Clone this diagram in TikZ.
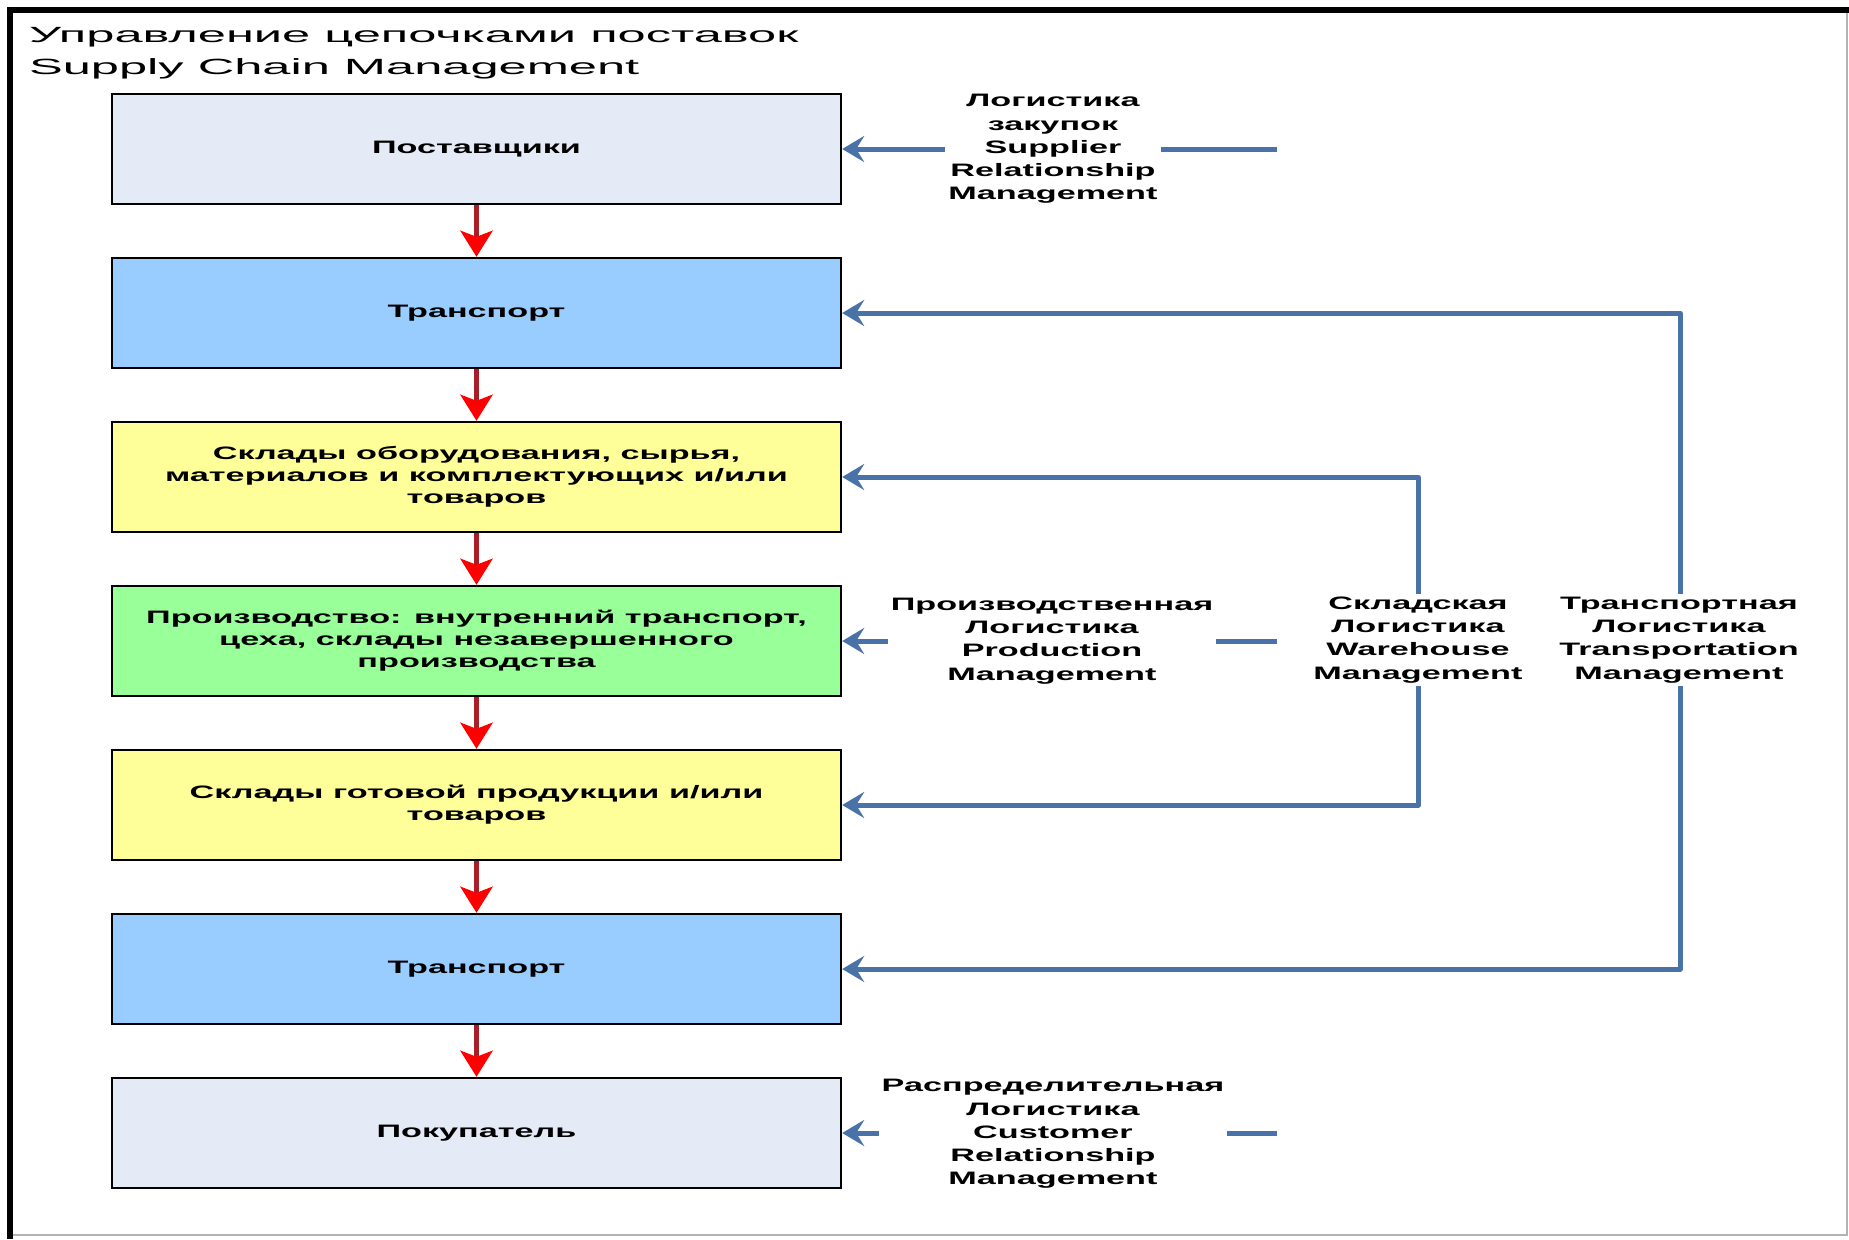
\documentclass[tikz,border=0pt]{standalone}
\usepackage{fontspec}
\setmainfont{Liberation Sans}
\newfontfamily\titlefont[FakeStretch=2.3]{Liberation Sans}
\newfontfamily\boxfont[FakeStretch=1.9]{Liberation Sans}
\usepackage{tikz}
\usetikzlibrary{positioning,arrows.meta}

\definecolor{EndFill}{RGB}{228,234,246}
\definecolor{TransFill}{RGB}{153,204,255}
\definecolor{StoreFill}{RGB}{255,255,153}
\definecolor{ProdFill}{RGB}{153,255,153}
\definecolor{LinkBlue}{RGB}{72,114,168}
\definecolor{ShaftRed}{RGB}{170,30,40}

\begin{document}
\begin{tikzpicture}[x=0.5pt,y=-0.5pt,
        box/.style={draw=black, line width=1.2pt, minimum width=364.5pt,
                    minimum height=55pt, inner sep=0pt, align=center,
                    font=\boxfont\bfseries\fontsize{9}{11}\selectfont},
        note/.style={fill=white, inner sep=1.5pt, align=center,
                    font=\boxfont\bfseries\fontsize{9}{11.6}\selectfont},
        flow/.style={draw=ShaftRed, line width=2.5pt,
                    -{Stealth[length=13pt,width=16pt,inset=3pt,color=red]}},
        link/.style={draw=LinkBlue, line width=2.5pt, line join=round,
                    -{Stealth[length=11pt,width=13pt,inset=4pt]}},
        twolink/.style={link,
                    {Stealth[length=11pt,width=13pt,inset=4pt]}-{Stealth[length=11pt,width=13pt,inset=4pt]}}]
                \useasboundingbox (0,0) rectangle (1849,1239);

                % frame
                \draw[gray!60, line width=0.8pt] (1847,13) -- (1847,1235) -- (10,1235);
                \draw[black, line width=3pt] (10,1239) -- (10,10) -- (1849,10);

                \node[anchor=west, align=left,
                      font=\titlefont\fontsize{11}{16}\selectfont] (title) at (22,53)
                      {Управление цепочками поставок\\Supply Chain Management};

                % chain
                \node[box, fill=EndFill]   (supp)  at (476.5,149)  {Поставщики};
                \node[box, fill=TransFill] (trIn)  at (476.5,313)  {Транспорт};
                \node[box, fill=StoreFill] (rawSt) at (476.5,477)
                      {Склады оборудования, сырья,\\материалов и комплектующих и/или\\товаров};
                \node[box, fill=ProdFill]  (prod)  at (476.5,641)
                      {Производство: внутренний транспорт,\\цеха, склады незавершенного\\производства};
                \node[box, fill=StoreFill] (finSt) at (476.5,805)
                      {Склады готовой продукции и/или\\товаров};
                \node[box, fill=TransFill] (trOut) at (476.5,969)  {Транспорт};
                \node[box, fill=EndFill]   (cust)  at (476.5,1133) {Покупатель};

                \path[flow]
                (supp)  edge (trIn)
                (trIn)  edge (rawSt)
                (rawSt) edge (prod)
                (prod)  edge (finSt)
                (finSt) edge (trOut)
                (trOut) edge (cust);

                % logistics links
                \coordinate (suppEnd) at (1277,149);
                \coordinate (prodEnd) at (1277,641);
                \coordinate (custEnd) at (1277,1133);
                \coordinate (wareX)   at (1418,0);
                \coordinate (transX)  at (1680,0);

                \draw[link] (suppEnd) -- (supp.east);
                \draw[link] (prodEnd) -- (prod.east);
                \draw[link] (custEnd) -- (cust.east);
                \draw[twolink] (rawSt.east) -| (wareX |- finSt.east) -- (finSt.east);
                \draw[twolink] (trIn.east) -| (transX |- trOut.east) -- (trOut.east);

                \node[note] (suppLog)  at (1053,149)
                      {Логистика\\закупок\\Supplier\\Relationship\\Management};
                \node[note] (prodLog)  at (1052,641)
                      {Производственная\\Логистика\\Production\\Management};
                \node[note] (custLog)  at (1053,1134)
                      {Распределительная\\Логистика\\Customer\\Relationship\\Management};
                \node[note] (wareLog)  at (1418,640)
                      {Складская\\Логистика\\Warehouse\\Management};
                \node[note] (transLog) at (1679,640)
                      {Транспортная\\Логистика\\Transportation\\Management};
\end{tikzpicture}
\end{document}
